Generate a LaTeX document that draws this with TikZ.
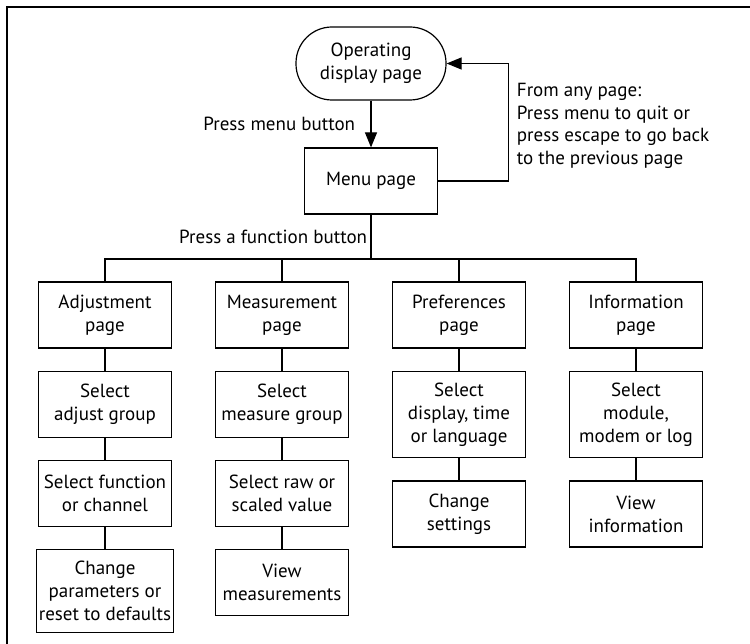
\documentclass[tikz,border=0pt]{standalone}
\usepackage{fontspec}
\setmainfont{PT Sans}
\usepackage{tikz}
\usetikzlibrary{arrows.meta}
\usetikzlibrary{positioning}
\tikzset{
  pagebox/.style={draw,line width=1.2pt,minimum width=133pt,minimum height=66pt,
    inner xsep=2pt,inner ysep=11.5pt,align=center,font=\fontsize{19}{23}\selectfont},
  startbox/.style={pagebox,rounded corners=36pt,minimum width=150pt,minimum height=73pt},
  notetext/.style={align=left,font=\fontsize{19}{22.6}\selectfont},
}

\begin{document}
\begin{tikzpicture}[x=1pt,y=-1pt,line width=1.2pt,>={Triangle[width=12pt,length=15pt]}]
        %%% FRAME %%%
        \useasboundingbox (0,0) rectangle (750,644);
        \draw (7,644) -- (7,7) -- (750,7);

        %%% OPERATING & MENU %%%
        \node[startbox] (op) at (371,63.5) {Operating\\display page};
        \node[pagebox] (menu) at (371,181) {Menu page};
        \draw[->] (op) -- node[left=12pt,notetext](lblmenu){Press menu button} (menu);
        \draw[->] (menu.east) -- ++(70,0) |- (op.east);
        \node[notetext,right] (anypage) at (513,126) {From any page:\\Press menu to quit or\\press escape to go back\\to the previous page};

        %%% FUNCTION PAGES %%%
        \coordinate (bus) at (371,259);
        \draw (menu) -- node[left,notetext](lblfunc){Press a function button} (bus);
        \node[pagebox] (adj1) at (105,315) {Adjustment\\page};
        \node[pagebox] (meas1) at (282,315) {Measurement\\page};
        \node[pagebox] (pref1) at (459,315) {Preferences\\page};
        \node[pagebox] (info1) at (636,315) {Information\\page};
        \foreach \col in {adj1,meas1,pref1,info1}
            \draw (bus) -| (\col);

        %%% SUB PAGES %%%
        \node[pagebox,below=22pt of adj1] (adj2) {Select\\adjust group};
        \node[pagebox,below=22pt of adj2] (adj3) {Select function\\or channel};
        \node[pagebox,below=22pt of adj3] (adj4) {Change\\parameters or\\reset to defaults};
        \node[pagebox,below=22pt of meas1] (meas2) {Select\\measure group};
        \node[pagebox,below=22pt of meas2] (meas3) {Select raw or\\scaled value};
        \node[pagebox,below=22pt of meas3] (meas4) {View\\measurements};
        \node[pagebox,below=22pt of pref1] (pref2) {Select\\display, time\\or language};
        \node[pagebox,below=22pt of pref2] (pref3) {Change\\settings};
        \node[pagebox,below=22pt of info1] (info2) {Select\\module,\\modem or log};
        \node[pagebox,below=22pt of info2] (info3) {View\\information};
        \draw (adj1) -- (adj2) -- (adj3) -- (adj4);
        \draw (meas1) -- (meas2) -- (meas3) -- (meas4);
        \draw (pref1) -- (pref2) -- (pref3);
        \draw (info1) -- (info2) -- (info3);
\end{tikzpicture}
\end{document}
